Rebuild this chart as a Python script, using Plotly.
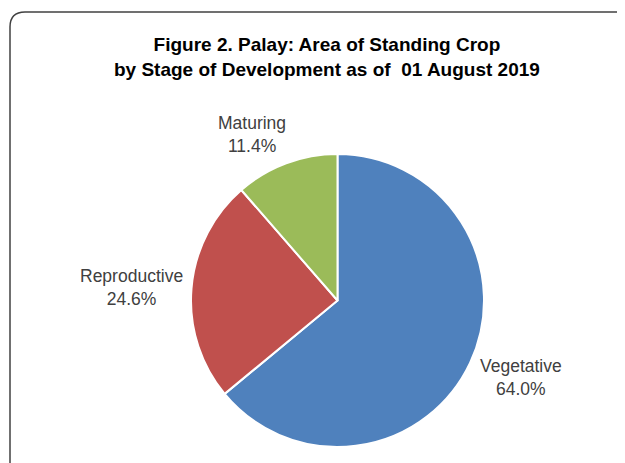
import plotly.graph_objects as go

# data
stages = ['Vegetative', 'Reproductive', 'Maturing']
shares = [64.0, 24.6, 11.4]
colors = ['#4F81BD', '#C0504D', '#9BBB59']

OFF = 8  # page body margin in the browser
W, H = 625 - OFF, 463 - OFF


def px_x(x):
    return (x - OFF) / W


def px_y(y):
    return 1 - (y - OFF) / H


fig = go.Figure(go.Pie(
    labels=stages, values=shares,
    sort=False, direction='clockwise', rotation=0,
    marker=dict(colors=colors, line=dict(color='white', width=2)),
    textinfo='none', hoverinfo='label+percent',
    domain=dict(x=[px_x(191), px_x(484)], y=[px_y(449), px_y(152)]),
    showlegend=False,
))

# outside labels (category + share)
label_pos = {'Vegetative': (521, 377), 'Reproductive': (131, 287), 'Maturing': (252, 134)}
for name, val in zip(stages, shares):
    x, y = label_pos[name]
    fig.add_annotation(
        x=px_x(x), y=px_y(y), xref='paper', yref='paper',
        text=f'{name}<br>{val:.1f}%', showarrow=False,
        font=dict(family='Liberation Sans, Arial', size=17.5, color='#404040'),
        xanchor='center', yanchor='middle',
    )

fig.add_annotation(
    x=px_x(327), y=px_y(57), xref='paper', yref='paper',
    text='<b>Figure 2. Palay: Area of Standing Crop<br>'
         'by Stage of Development as of \u00a001 August 2019</b>',
    showarrow=False, align='center',
    font=dict(family='Liberation Sans, Arial', size=19, color='black'),
    xanchor='center', yanchor='middle',
)

# rounded chart-area border (runs off the right and bottom edges)
border = dict(color='#404040', width=1.5)
x0, y0, r = px_x(10), px_y(12), 15
fig.add_shape(type='line', xref='paper', yref='paper',
              x0=x0, x1=x0, y0=0, y1=px_y(12 + r), line=border)
fig.add_shape(type='line', xref='paper', yref='paper',
              x0=px_x(10 + r), x1=1, y0=y0, y1=y0, line=border)
fig.add_shape(type='path', xref='paper', yref='paper',
              path=f'M {x0},{px_y(12 + r)} Q {x0},{y0} {px_x(10 + r)},{y0}',
              line=border)

fig.update_layout(
    width=W, height=H,
    margin=dict(l=0, r=0, t=0, b=0),
    paper_bgcolor='white', plot_bgcolor='white',
)

fig.write_html('out.html')
